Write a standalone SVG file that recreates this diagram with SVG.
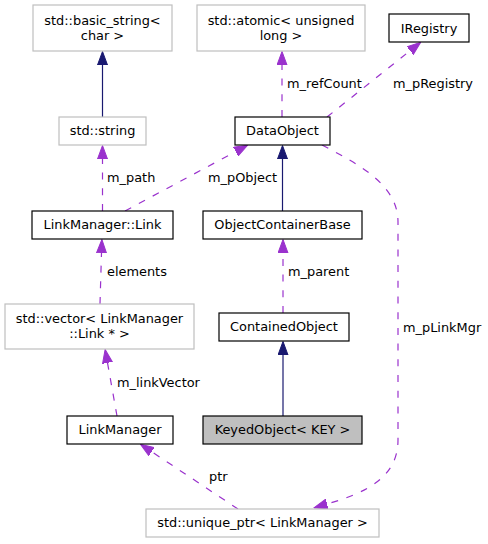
<svg xmlns="http://www.w3.org/2000/svg" width="488" height="544" viewBox="0 0 488 544">
<style>
text{font-family:"DejaVu Sans","Liberation Sans",sans-serif;font-size:12.9px;fill:#000}
.n text{text-anchor:middle}
.int rect{fill:#fff;stroke:#000;stroke-width:1.2}
.ext rect{fill:#fff;stroke:#bfbfbf;stroke-width:1.2}
.cur rect{fill:#bfbfbf;stroke:#000;stroke-width:1.2}
.inh{fill:none;stroke:#191970;stroke-width:1.2}
.use{fill:none;stroke:#9a32cd;stroke-width:1.2;stroke-dasharray:7,8.7}
</style>
<defs>
<marker id="an" markerUnits="userSpaceOnUse" markerWidth="14" markerHeight="11" viewBox="0 0 14 11" refX="0" refY="5.5" orient="auto"><path d="M0,0.5 L13.5,5.5 L0,10.5 Z" fill="#191970" stroke="#191970"/></marker>
<marker id="ap" markerUnits="userSpaceOnUse" markerWidth="14" markerHeight="11" viewBox="0 0 14 11" refX="0" refY="5.5" orient="auto"><path d="M0,0.5 L13.5,5.5 L0,10.5 Z" fill="#9a32cd" stroke="#9a32cd"/></marker>
</defs>
<g id="edges">
<path class="inh" d="M102.5,117 L102.5,65" marker-end="url(#an)"/>
<path class="use" d="M102.5,211 L102.5,159" marker-end="url(#ap)"/>
<path class="use" d="M125,211 L235.7,151.6" marker-end="url(#ap)"/>
<path class="inh" d="M282.5,211 L282.5,159" marker-end="url(#an)"/>
<path class="use" d="M282,117 L282,65" marker-end="url(#ap)"/>
<path class="use" d="M327,117 L410.1,50.7" marker-end="url(#ap)"/>
<path class="use" d="M283,313 L283,253" marker-end="url(#ap)"/>
<path class="inh" d="M283,416 L283,355" marker-end="url(#an)"/>
<path class="use" d="M100,304 L101.5,253" marker-end="url(#ap)"/>
<path class="use" d="M117,416 L107.5,362.8" marker-end="url(#ap)"/>
<path class="use" d="M238,509 L151.7,451.7" marker-end="url(#ap)"/>
<path class="use" d="M322,145 C360,165 398,185 398,222 L398,440 C398,478 365,493 327,504" marker-end="url(#ap)"/>
<text x="107" y="182">m_path</text>
<text x="208" y="182">m_pObject</text>
<text x="287" y="88">m_refCount</text>
<text x="393" y="88">m_pRegistry</text>
<text x="107" y="276">elements</text>
<text x="288" y="276">m_parent</text>
<text x="403" y="332">m_pLinkMgr</text>
<text x="117" y="387">m_linkVector</text>
<text x="209" y="481">ptr</text>
</g>
<g id="basic_string" class="n ext"><rect x="33" y="5" width="139" height="46"/><text x="102.5" y="25">std::basic_string&lt;</text><text x="102.5" y="40">char &gt;</text></g>
<g id="string" class="n ext"><rect x="59" y="117" width="87" height="28"/><text x="102.5" y="135">std::string</text></g>
<g id="atomic" class="n ext"><rect x="197" y="5" width="168" height="46"/><text x="281" y="25">std::atomic&lt; unsigned</text><text x="281" y="40">long &gt;</text></g>
<g id="IRegistry" class="n int"><rect x="389" y="14" width="80" height="28"/><text x="429" y="33">IRegistry</text></g>
<g id="DataObject" class="n int"><rect x="235" y="117" width="95" height="28"/><text x="282.5" y="135">DataObject</text></g>
<g id="Link" class="n int"><rect x="32" y="211" width="141" height="28"/><text x="102.5" y="229">LinkManager::Link</text></g>
<g id="ObjectContainerBase" class="n int"><rect x="203" y="211" width="159" height="28"/><text x="282.5" y="229">ObjectContainerBase</text></g>
<g id="vector" class="n ext"><rect x="5" y="304" width="189" height="45"/><text x="99.5" y="323">std::vector&lt; LinkManager</text><text x="99.5" y="338">::Link * &gt;</text></g>
<g id="ContainedObject" class="n int"><rect x="219" y="313" width="130" height="28"/><text x="284" y="331">ContainedObject</text></g>
<g id="LinkManager" class="n int"><rect x="67" y="416" width="106" height="28"/><text x="120" y="434">LinkManager</text></g>
<g id="KeyedObject" class="n cur"><rect x="203" y="416" width="159" height="28"/><text x="282.5" y="434">KeyedObject&lt; KEY &gt;</text></g>
<g id="unique_ptr" class="n ext"><rect x="146" y="509" width="233" height="28"/><text x="262.5" y="527">std::unique_ptr&lt; LinkManager &gt;</text></g>
</svg>
